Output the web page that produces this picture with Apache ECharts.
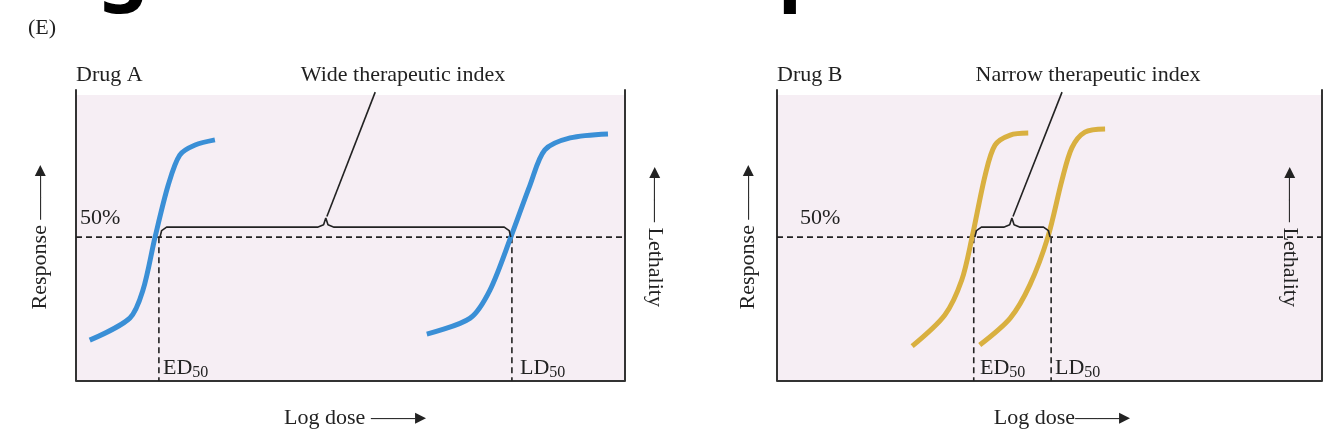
<!DOCTYPE html>
<html>
<head>
<meta charset="utf-8">
<script src="https://cdn.jsdelivr.net/npm/echarts@6/dist/echarts.min.js"></script>
<style>html,body{margin:0;padding:0;background:#fff}#main{width:1344px;height:442px}</style>
</head>
<body>
<div id="main"></div>
<script>
// dose-response curves, x = log dose (0-100), y = response %
var drugA_effect = [[2.5,14.3],[9.8,22],[12.2,31.8],[14.4,50.3],[16.8,68.5],[18.9,79],[21.7,82.5],[25.3,84.3]];
var drugA_lethal = [[63.9,16.4],[71.8,22],[75.4,31.8],[79.2,50.3],[82.7,68.5],[85.4,80.8],[90,85],[96.9,86.4]];
var drugB_effect = [[24.8,12.2],[30.8,23.1],[33.9,35.3],[35.8,50.3],[38.2,72],[40,82.5],[42.8,86],[46.1,86.7]];
var drugB_lethal = [[37.2,12.6],[42.8,22],[46.4,33.6],[49.7,50.3],[52.3,70.3],[54.1,81.5],[56.5,87],[60.2,88.1]];
var ed50 = [15.1, 36.1];
var ld50 = [79.4, 50.3];
var halfLine = 50.3;
var cuspX = [45.5, 43.1];
var pointerEnd = [[54.5, 101], [52.3, 101]];

var chart = echarts.init(document.getElementById('main'));
var serif = 'Liberation Serif';

function brace(a, b, c) {
  return [[a + 0.2, halfLine], [a + 0.5, 52.6], [a + 1.4, 53.8], [c - 1.5, 53.8], [c - 0.4, 54.6], [c, 57],
          [c + 0.4, 54.6], [c + 1.5, 53.8], [b - 1.4, 53.8], [b - 0.5, 52.6], [b - 0.2, halfLine]];
}
function ln(idx, data, opt) {
  return Object.assign({type: 'line', xAxisIndex: idx, yAxisIndex: idx, data: data, symbol: 'none', silent: true,
    clip: false, lineStyle: {color: '#222', width: 1.6}}, opt || {});
}
function panel(idx, curves, color) {
  var s = [];
  s.push(ln(idx, [[0, -0.3], [0, 102]], {lineStyle: {color: '#333', width: 2}}));
  s.push(ln(idx, [[100, -0.3], [100, 102]], {lineStyle: {color: '#333', width: 2}}));
  s.push(ln(idx, [[0, 0], [100, 0]], {lineStyle: {color: '#333', width: 2}}));
  s.push(ln(idx, [[0, halfLine], [100, halfLine]], {lineStyle: {color: '#222', width: 1.6, type: [6, 4]}}));
  s.push(ln(idx, [[ed50[idx], halfLine], [ed50[idx], 0]], {lineStyle: {color: '#222', width: 1.6, type: [6, 4]}}));
  s.push(ln(idx, [[ld50[idx], halfLine], [ld50[idx], 0]], {lineStyle: {color: '#222', width: 1.6, type: [6, 4]}}));
  curves.forEach(function (c) {
    s.push(ln(idx, c, {smooth: 0.3, lineStyle: {color: color, width: 5}}));
  });
  s.push(ln(idx, brace(ed50[idx], ld50[idx], cuspX[idx])));
  s.push(ln(idx, [[cuspX[idx] + 0.2, 57.5], pointerEnd[idx]]));
  return s;
}

function txt(x, y, str, opt) {
  return {type: 'text', x: x, y: y, silent: true, rotation: (opt && opt.rot) || 0,
    style: Object.assign({text: str, font: '22px "' + serif + '"', fill: '#222', textAlign: 'left', textVerticalAlign: 'middle'},
      opt && opt.style)};
}
function sub(x, y, main) {
  return {type: 'text', x: x, y: y, silent: true,
    style: {text: '{m|' + main + '}{s|50}', fill: '#222', textVerticalAlign: 'middle',
      rich: {m: {font: '22px "' + serif + '"'}, s: {font: '16px "' + serif + '"', padding: [10, 0, 0, 0]}}}};
}

var graphics = [
  {type: 'text', x: 98, y: -68, silent: true, style: {text: 'g', font: 'bold 80px "Noto Sans"', fill: '#000'}},
  {type: 'text', x: 778, y: -68, silent: true, style: {text: 'p', font: 'bold 80px "Noto Sans"', fill: '#000'}},
  txt(28, 28, '(E)'),
  txt(76, 75, 'Drug A'),
  txt(403, 75, 'Wide therapeutic index', {style: {textAlign: 'center'}}),
  txt(80, 218, '50%'),
  sub(163, 368, 'ED'),
  sub(520, 368, 'LD'),
  txt(355, 418, 'Log dose \u2014\u2014\u25B8', {style: {textAlign: 'center'}}),
  txt(40, 237, 'Response \u2014\u2014\u25B8', {rot: Math.PI / 2, style: {textAlign: 'center'}}),
  txt(655, 237, '\u25C2\u2014\u2014 Lethality', {rot: -Math.PI / 2, style: {textAlign: 'center'}}),
  txt(777, 75, 'Drug B'),
  txt(1088, 75, 'Narrow therapeutic index', {style: {textAlign: 'center'}}),
  txt(800, 218, '50%'),
  sub(980, 368, 'ED'),
  sub(1055, 368, 'LD'),
  txt(1062, 418, 'Log dose\u2014\u2014\u25B8', {style: {textAlign: 'center'}}),
  txt(748, 237, 'Response \u2014\u2014\u25B8', {rot: Math.PI / 2, style: {textAlign: 'center'}}),
  txt(1290, 237, '\u25C2\u2014\u2014 Lethality', {rot: -Math.PI / 2, style: {textAlign: 'center'}})
];

var hidden = {show: false};
chart.setOption({
  animation: false,
  grid: [
    {left: 76, right: 719, top: 95, bottom: 61, show: true, backgroundColor: '#f6eef4', borderWidth: 0},
    {left: 777, right: 22, top: 95, bottom: 61, show: true, backgroundColor: '#f6eef4', borderWidth: 0}
  ],
  xAxis: [0, 1].map(function (i) {
    return {type: 'value', gridIndex: i, min: 0, max: 100, axisLine: hidden, axisTick: hidden, axisLabel: hidden, splitLine: hidden};
  }),
  yAxis: [0, 1].map(function (i) {
    return {type: 'value', gridIndex: i, min: 0, max: 100, axisLine: hidden, axisTick: hidden, axisLabel: hidden, splitLine: hidden};
  }),
  series: panel(0, [drugA_effect, drugA_lethal], '#3a8fd6').concat(panel(1, [drugB_effect, drugB_lethal], '#d9b040')),
  graphic: graphics
});
</script>
</body>
</html>
